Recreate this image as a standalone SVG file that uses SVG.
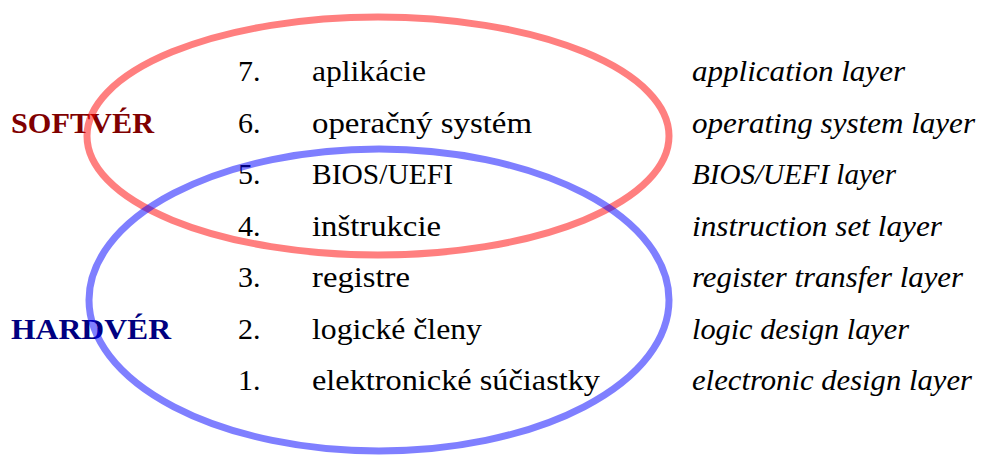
<svg xmlns="http://www.w3.org/2000/svg" width="981" height="455" viewBox="0 0 981 455">
  <style>
    text { font-family: "Liberation Serif", "DejaVu Serif", serif; font-size: 30px; fill: #000; }
    .en { font-style: italic; }
    .side { font-weight: bold; }
    .ring { fill: none; stroke-width: 7; stroke-opacity: 0.5; }
  </style>
  <rect width="981" height="455" fill="#fff"/>

  <g id="labels">
    <text id="softver" class="side" x="11" y="133" textLength="143" lengthAdjust="spacingAndGlyphs" style="fill:#800000">SOFTVÉR</text>
    <text id="hardver" class="side" x="11" y="339" textLength="160" lengthAdjust="spacingAndGlyphs" style="fill:#000080">HARDVÉR</text>
  </g>

  <g id="layer7"><text x="238" y="81">7.</text><text x="312" y="81" textLength="114" lengthAdjust="spacingAndGlyphs">aplikácie</text><text class="en" x="692" y="81" textLength="213" lengthAdjust="spacingAndGlyphs">application layer</text></g>
  <g id="layer6"><text x="238" y="133">6.</text><text x="312" y="133" textLength="220" lengthAdjust="spacingAndGlyphs">operačný systém</text><text class="en" x="692" y="133" textLength="283" lengthAdjust="spacingAndGlyphs">operating system layer</text></g>
  <g id="layer5"><text x="238" y="184">5.</text><text x="312" y="184" textLength="141" lengthAdjust="spacingAndGlyphs">BIOS/UEFI</text><text class="en" x="692" y="184" textLength="204" lengthAdjust="spacingAndGlyphs">BIOS/UEFI layer</text></g>
  <g id="layer4"><text x="238" y="236">4.</text><text x="312" y="236" textLength="129" lengthAdjust="spacingAndGlyphs">inštrukcie</text><text class="en" x="692" y="236" textLength="250" lengthAdjust="spacingAndGlyphs">instruction set layer</text></g>
  <g id="layer3"><text x="238" y="287">3.</text><text x="312" y="287" textLength="98" lengthAdjust="spacingAndGlyphs">registre</text><text class="en" x="692" y="287" textLength="271" lengthAdjust="spacingAndGlyphs">register transfer layer</text></g>
  <g id="layer2"><text x="238" y="339">2.</text><text x="312" y="339" textLength="170" lengthAdjust="spacingAndGlyphs">logické členy</text><text class="en" x="692" y="339" textLength="217" lengthAdjust="spacingAndGlyphs">logic design layer</text></g>
  <g id="layer1"><text x="238" y="390">1.</text><text x="312" y="390" textLength="288" lengthAdjust="spacingAndGlyphs">elektronické súčiastky</text><text class="en" x="692" y="390" textLength="280" lengthAdjust="spacingAndGlyphs">electronic design layer</text></g>

  <g id="groups">
    <ellipse id="software-ring" class="ring" cx="378" cy="136" rx="291" ry="119" stroke="#ff0000"/>
    <ellipse id="hardware-ring" class="ring" cx="379" cy="300" rx="290" ry="151" stroke="#0000ff"/>
  </g>
</svg>
